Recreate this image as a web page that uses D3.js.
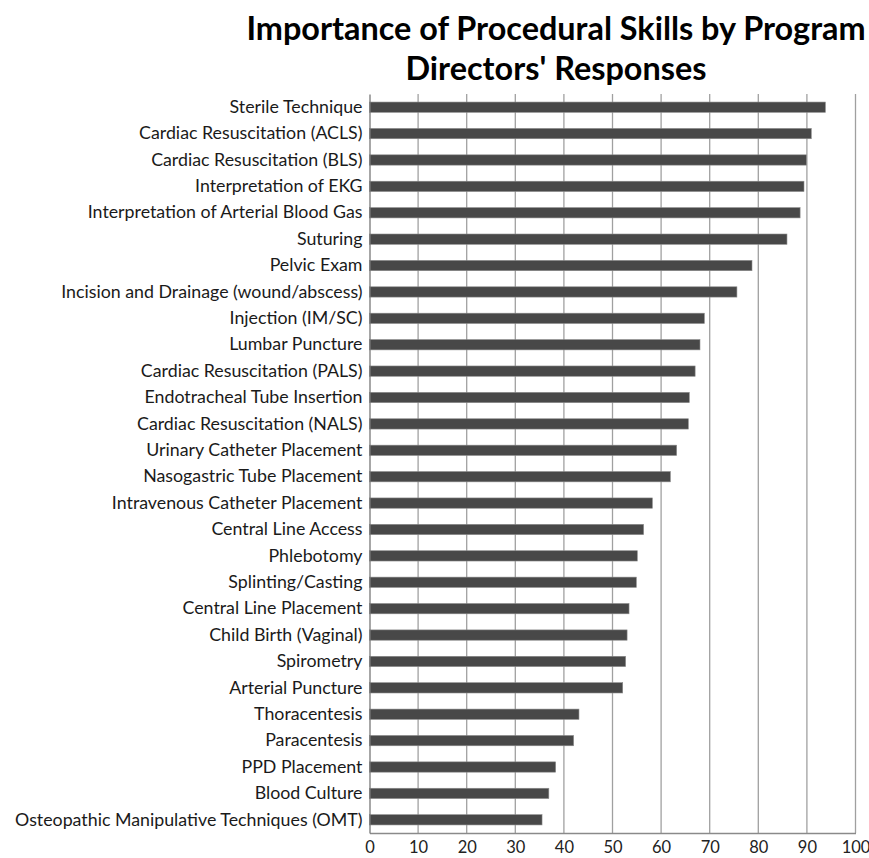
<!DOCTYPE html>
<html><head><meta charset="utf-8">
<script src="https://cdn.jsdelivr.net/npm/d3@7"></script>
<style>body{margin:0;background:#fff}</style>
</head><body>
<script>
const categories = [
 "Sterile Technique","Cardiac Resuscitation (ACLS)","Cardiac Resuscitation (BLS)","Interpretation of EKG",
 "Interpretation of Arterial Blood Gas","Suturing","Pelvic Exam","Incision and Drainage (wound/abscess)",
 "Injection (IM/SC)","Lumbar Puncture","Cardiac Resuscitation (PALS)","Endotracheal Tube Insertion",
 "Cardiac Resuscitation (NALS)","Urinary Catheter Placement","Nasogastric Tube Placement",
 "Intravenous Catheter Placement","Central Line Access","Phlebotomy","Splinting/Casting",
 "Central Line Placement","Child Birth (Vaginal)","Spirometry","Arterial Puncture","Thoracentesis",
 "Paracentesis","PPD Placement","Blood Culture","Osteopathic Manipulative Techniques (OMT)"];
const values = [93.8,90.9,89.9,89.4,88.6,85.9,78.7,75.6,68.9,68.0,67.0,65.8,65.6,63.2,61.9,
 58.2,56.4,55.1,54.9,53.4,53.0,52.7,52.1,43.1,42.0,38.3,36.9,35.5];
const tickValues = [0,10,20,30,40,50,60,70,80,90,100];
const titleLines = ["Importance of Procedural Skills by Program","Directors' Responses"];

const W=869,H=858;
const m={left:369.5,right:13.5,top:94,bottom:25};
const svg=d3.select("body").append("svg").attr("width",W).attr("height",H);
const font="Lato, 'Open Sans', sans-serif";
const x=d3.scaleLinear().domain([0,100]).range([m.left,W-m.right]);
const y=d3.scaleBand().domain(categories).range([m.top,H-m.bottom]).paddingInner(0.61).paddingOuter(0.305);

// gridlines
svg.append("g").selectAll("line").data(tickValues.slice(1)).join("line")
 .attr("x1",d=>x(d)).attr("x2",d=>x(d)).attr("y1",m.top).attr("y2",H-m.bottom)
 .attr("stroke","#a0a0a0").attr("stroke-width",1.3);

// bars
svg.append("g").selectAll("rect").data(values).join("rect")
 .attr("x",x(0)).attr("y",(d,i)=>y(categories[i])).attr("width",d=>x(d)-x(0))
 .attr("height",y.bandwidth()).attr("fill","#484848").attr("stroke","#8a8a8a").attr("stroke-width",0.6);

// x axis
const xa=svg.append("g").attr("transform",`translate(0,${H-m.bottom})`)
 .call(d3.axisBottom(x).tickValues(tickValues).tickSize(0).tickPadding(8));
xa.select(".domain").attr("stroke","#8a8a8a").attr("stroke-width",1.3);
xa.selectAll("text").attr("font-family",font).attr("font-size",16.5).attr("fill","#222");

// y axis
const ya=svg.append("g").attr("transform",`translate(${m.left},0)`)
 .call(d3.axisLeft(y).tickSize(0).tickPadding(7));
ya.select(".domain").attr("stroke","#777").attr("stroke-width",1.3);
ya.selectAll("text").attr("font-family",font).attr("font-size",17.8).attr("fill","#1a1a1a");

// title
svg.append("g").selectAll("text").data(titleLines).join("text")
 .attr("x",556).attr("y",(d,i)=>40+i*40).attr("text-anchor","middle")
 .attr("font-family",font).attr("font-weight","bold").attr("font-size",32.4).attr("fill","#000")
 .text(d=>d);
</script>
</body></html>
